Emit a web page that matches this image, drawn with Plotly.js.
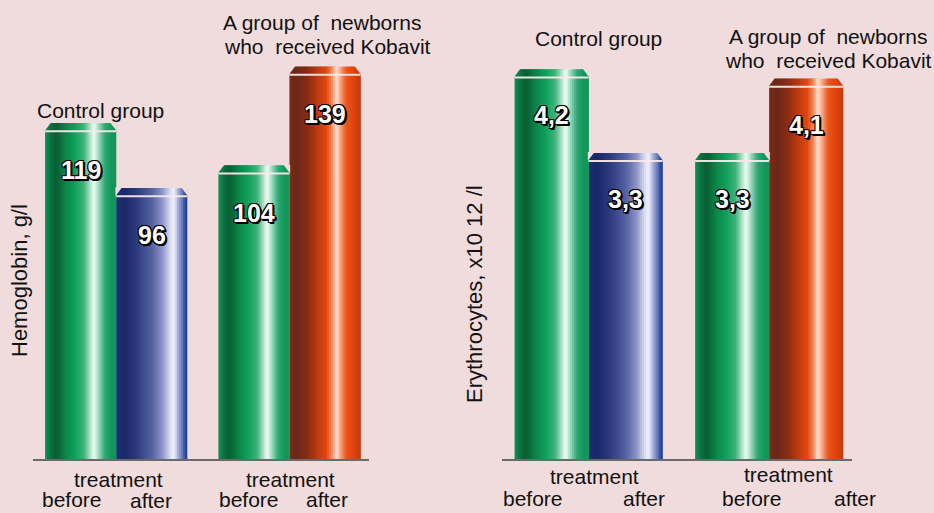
<!DOCTYPE html>
<html>
<head>
<meta charset="utf-8">
<script src="https://cdn.plot.ly/plotly-3.0.1.min.js"></script>
<style>
  html, body { margin: 0; padding: 0; background: #f0dcdc; }
  #chart { width: 934px; height: 513px; }
</style>
</head>
<body>
<div id="chart"></div>
<script>
// ---------- DATA ----------
const hemoglobin = [119, 96, 104, 139];
const hemoglobinLabels = ['119', '96', '104', '139'];
const erythrocytes = [4.2, 3.3, 3.3, 4.1];
const erythrocyteLabels = ['4,2', '3,3', '3,3', '4,1'];
const groupTitleControl = 'Control group';
const groupTitleKobavit = ['A group of  newborns', 'who  received Kobavit'];
const subTitle = 'treatment';
const barTimes = ['before', 'after', 'before', 'after'];
const yTitleLeft = 'Hemoglobin, g/l';
const yTitleRight = 'Erythrocytes, x10 12 /l';

// ---------- STYLE / LAYOUT ----------
const W = 934, H = 513;
const BG = '#f0dcdc';
const xpos = [0, 1, 2.44, 3.44];            // bar slot positions (layout)
const xRange = [-0.67, 4.06];
const plotTop = 40, plotBottom = 459;
const yDom = [1 - plotBottom / H, 1 - plotTop / H];
const leftDom = [33 / W, 369 / W];
const rightDom = [502 / W, 852 / W];
const leftYRange = [0, 148.5];
const rightYRange = [0, 4.517];

const pal = {
  green: [[0,'#139058'],[0.08,'#0b7040'],[0.16,'#0a5e34'],[0.28,'#0c8448'],[0.42,'#10a05c'],[0.55,'#40b47c'],[0.63,'#a8e0c4'],[0.69,'#f2fff8'],[0.75,'#a0dcc0'],[0.84,'#30a874'],[0.93,'#14985c'],[1,'#12965a']],
  blue:  [[0,'#1b3078'],[0.12,'#1a2866'],[0.3,'#2e3c80'],[0.5,'#5560a0'],[0.65,'#8c94c8'],[0.76,'#d8dcf2'],[0.81,'#f4f4fc'],[0.87,'#a8b0dc'],[0.94,'#6070b0'],[0.97,'#2848a0'],[1,'#1840a0']],
  red:   [[0,'#7a2c16'],[0.1,'#6a2818'],[0.25,'#8a2c14'],[0.4,'#c03a10'],[0.52,'#e24810'],[0.6,'#f88a5c'],[0.66,'#ffe6da'],[0.72,'#f8a07c'],[0.8,'#ec5418'],[0.9,'#e04410'],[1,'#c43a10']]
};
const barPalettes = [pal.green, pal.blue, pal.green, pal.red];

function hex(c){ return [parseInt(c.slice(1,3),16), parseInt(c.slice(3,5),16), parseInt(c.slice(5,7),16)]; }
function grad(stops, t){
  for (let k = 0; k < stops.length - 1; k++){
    const [t0,c0] = stops[k], [t1,c1] = stops[k+1];
    if (t >= t0 && t <= t1){
      const f = (t - t0) / (t1 - t0), a = hex(c0), b = hex(c1);
      return 'rgb(' + a.map((v,j)=>Math.round(v + (b[j]-v)*f)).join(',') + ')';
    }
  }
  return stops[stops.length-1][1];
}

const N = 36;
const traces = [];
const panels = [
  {vals: hemoglobin, xa: 'x', ya: 'y', yr: leftYRange, dom: leftDom},
  {vals: erythrocytes, xa: 'x2', ya: 'y2', yr: rightYRange, dom: rightDom}
];
panels.forEach(p => {
  for (let i = 0; i < N; i++){
    const t = (i + 0.5) / N;
    const off = -0.5 + i / N;
    const w = Math.min(3 / N, 0.5 - off);   // overlapping strips hide seams
    traces.push({
      type: 'bar', x: xpos, y: p.vals, xaxis: p.xa, yaxis: p.ya,
      width: w, offset: off,
      marker: {color: barPalettes.map(pl => grad(pl, t)), line: {width: 0}},
      hoverinfo: 'skip', showlegend: false
    });
  }
  const pxPerY = (plotBottom - plotTop) / (p.yr[1] - p.yr[0]);
  const pxPerX = (p.dom[1] - p.dom[0]) * W / (xRange[1] - xRange[0]);
  const capU = 9 / pxPerY, lineU = 2 / pxPerY;
  // thin light ring under the cap
  traces.push({
    type: 'bar', x: xpos, y: p.vals.map(() => lineU), base: p.vals.map(v => v - capU),
    xaxis: p.xa, yaxis: p.ya, width: 1, offset: -0.5,
    marker: {color: 'rgba(250,232,232,0.95)', line: {width: 0}},
    hoverinfo: 'skip', showlegend: false
  });
  // chamfered top corners
  const cx = 6 / pxPerX, cy = 8 / pxPerY, eps = 0.002 * p.yr[1];
  const tx = [], ty = [];
  p.vals.forEach((v, i) => {
    const l = xpos[i] - 0.5, r = xpos[i] + 0.5;
    tx.push(l - 0.01, l + cx, l - 0.01, l - 0.01, null); ty.push(v + eps, v + eps, v - cy, v + eps, null);
    tx.push(r + 0.01, r - cx, r + 0.01, r + 0.01, null); ty.push(v + eps, v + eps, v - cy, v + eps, null);
  });
  traces.push({
    type: 'scatter', mode: 'lines', x: tx, y: ty, xaxis: p.xa, yaxis: p.ya,
    fill: 'toself', fillcolor: BG, line: {width: 0, color: BG},
    hoverinfo: 'skip', showlegend: false
  });
});

const txtFont = {family: 'Liberation Sans, Arial, sans-serif', size: 21, color: '#111111'};
const numFont = {family: 'Liberation Sans, Arial, sans-serif', size: 25, color: '#ffffff', weight: 'bold',
  shadow: '2px 2px 0 #000, -1px -1px 0 #000, 1px -1px 0 #000, -1px 1px 0 #000, 1px 1px 0 #000, 2px 1px 0 #000, 1px 2px 0 #000'};

function px(x){ return x / W; }
function py(y){ return 1 - y / H; }
function txt(text, x, y, extra){
  return Object.assign({text: text, xref: 'paper', yref: 'paper', x: px(x), y: py(y),
    xanchor: 'center', yanchor: 'middle', showarrow: false, font: txtFont}, extra || {});
}

const annotations = [];
// value labels inside bars
hemoglobin.forEach((v, i) => annotations.push({text: hemoglobinLabels[i], x: xpos[i], y: v, xref: 'x', yref: 'y',
  yanchor: 'middle', xanchor: 'center', yshift: -47, showarrow: false, font: numFont}));
erythrocytes.forEach((v, i) => annotations.push({text: erythrocyteLabels[i], x: xpos[i], y: v, xref: 'x2', yref: 'y2',
  yanchor: 'middle', xanchor: 'center', yshift: -46, showarrow: false, font: numFont}));

// group titles
annotations.push(txt(groupTitleControl, 100, 111));
annotations.push(txt(groupTitleKobavit[0], 322, 22));
annotations.push(txt(groupTitleKobavit[1], 327, 47));
annotations.push(txt(groupTitleControl, 598, 38));
annotations.push(txt(groupTitleKobavit[0], 828, 36));
annotations.push(txt(groupTitleKobavit[1], 828, 60));

// axis-like category labels
annotations.push(txt(subTitle, 118, 479));
annotations.push(txt(barTimes[0], 72, 499));
annotations.push(txt(barTimes[1], 151, 500));
annotations.push(txt(subTitle, 290, 479));
annotations.push(txt(barTimes[2], 249, 499));
annotations.push(txt(barTimes[3], 327, 499));
annotations.push(txt(subTitle, 594, 476));
annotations.push(txt(barTimes[0], 533, 498));
annotations.push(txt(barTimes[1], 644, 498));
annotations.push(txt(subTitle, 788, 474));
annotations.push(txt(barTimes[2], 752, 498));
annotations.push(txt(barTimes[3], 855, 498));

// y titles
annotations.push(txt(yTitleLeft, 19, 281, {textangle: -90, font: Object.assign({}, txtFont, {size: 22})}));
annotations.push(txt(yTitleRight, 474, 294, {textangle: -90, font: Object.assign({}, txtFont, {size: 22})}));

const axX = {range: xRange, showgrid: false, zeroline: false, showticklabels: false, ticks: '',
  showline: true, linecolor: '#6a6a6a', linewidth: 1.5, fixedrange: true};
const axY = {showgrid: false, zeroline: false, showticklabels: false, ticks: '', showline: false, fixedrange: true};

const layout = {
  width: W, height: H,
  margin: {l: 0, r: 0, t: 0, b: 0},
  paper_bgcolor: BG, plot_bgcolor: 'rgba(0,0,0,0)',
  barmode: 'overlay', showlegend: false,
  xaxis: Object.assign({}, axX, {domain: leftDom, anchor: 'y'}),
  yaxis: Object.assign({}, axY, {domain: yDom, range: leftYRange, anchor: 'x'}),
  xaxis2: Object.assign({}, axX, {domain: rightDom, anchor: 'y2'}),
  yaxis2: Object.assign({}, axY, {domain: yDom, range: rightYRange, anchor: 'x2'}),
  annotations: annotations
};

Plotly.newPlot('chart', traces, layout, {staticPlot: true, displayModeBar: false});
</script>
</body>
</html>
